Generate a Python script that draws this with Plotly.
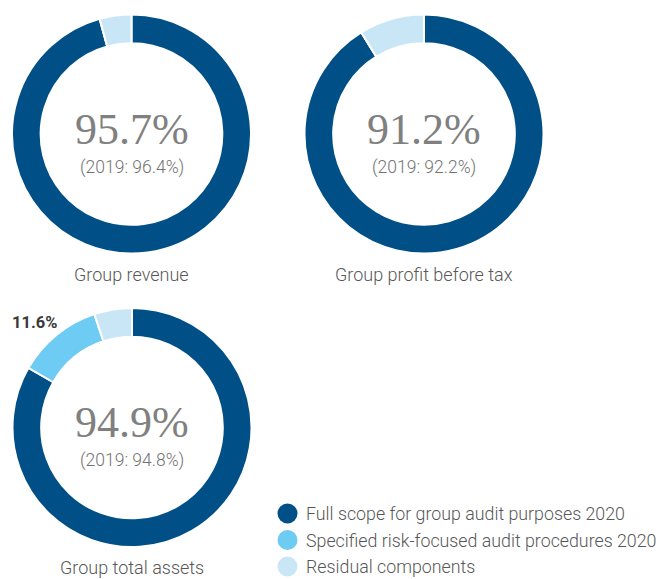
import plotly.graph_objects as go

W, H = 662, 579

# Component categories and colours
categories = ["Full scope for group audit purposes 2020",
              "Specified risk-focused audit procedures 2020",
              "Residual components"]
colors = ["#004f86", "#6ecbf3", "#c9e6f7"]

# Coverage shares (%) per metric: full scope, specified procedures, residual
metrics = ["Group revenue", "Group profit before tax", "Group total assets"]
full_scope = [95.7, 91.2, 83.3]
specified = [0.0, 0.0, 11.6]
residual = [4.3, 8.8, 5.1]
totals_2020 = ["95.7%", "91.2%", "94.9%"]
totals_2019 = ["(2019: 96.4%)", "(2019: 92.2%)", "(2019: 94.8%)"]

# Donut centres and radius in pixels
centers = [(131.5, 134), (424, 134), (132, 427.5)]
R = 119.5

fig = go.Figure()


def px_x(x):
    return x / W


def px_y(y):
    return 1 - y / H


for i, m in enumerate(metrics):
    cx, cy = centers[i]
    vals = [full_scope[i], specified[i], residual[i]]
    fig.add_trace(go.Pie(
        labels=categories, values=vals, sort=False,
        direction="clockwise", rotation=0, hole=0.76,
        marker=dict(colors=colors, line=dict(color="white", width=2)),
        textinfo="none", hoverinfo="label+value", showlegend=False,
        domain=dict(x=[px_x(cx - R), px_x(cx + R)],
                    y=[px_y(cy + R), px_y(cy - R)]),
    ))
    fig.add_annotation(x=px_x(cx), y=px_y(cy - 5), text=totals_2020[i],
                       showarrow=False, xanchor="center", yanchor="middle",
                       font=dict(family="Liberation Serif", size=44, color="#808080"))
    fig.add_annotation(x=px_x(cx), y=px_y(cy + 33), text=totals_2019[i],
                       showarrow=False, xanchor="center", yanchor="middle",
                       font=dict(family="Roboto", size=17.5, color="#737373", weight=300))
    fig.add_annotation(x=px_x(cx), y=px_y(cy + 140), text=m,
                       showarrow=False, xanchor="center", yanchor="middle",
                       font=dict(family="Roboto", size=18, color="#575757", weight=300))

# Outside value label for the specified-procedures slice
fig.add_annotation(x=px_x(10), y=px_y(322), text="<b>%.1f%%</b>" % specified[2],
                   showarrow=False, xanchor="left", yanchor="middle",
                   font=dict(family="Roboto", size=16.5, color="#3a3a3a"))

# Legend with round swatches
legend_y = [513.5, 540, 566.5]
for name, col, ly in zip(categories, colors, legend_y):
    fig.add_shape(type="circle", xref="paper", yref="paper",
                  x0=px_x(277.5), x1=px_x(297.5), y0=px_y(ly + 10), y1=px_y(ly - 10),
                  fillcolor=col, line=dict(width=0))
    fig.add_annotation(x=px_x(304), y=px_y(ly), text=name, showarrow=False,
                       xanchor="left", yanchor="middle",
                       font=dict(family="Roboto", size=17.8, color="#575757", weight=300))

fig.update_layout(width=W, height=H, margin=dict(l=0, r=0, t=0, b=0),
                  paper_bgcolor="white", plot_bgcolor="white")
fig.write_html("out.html")
